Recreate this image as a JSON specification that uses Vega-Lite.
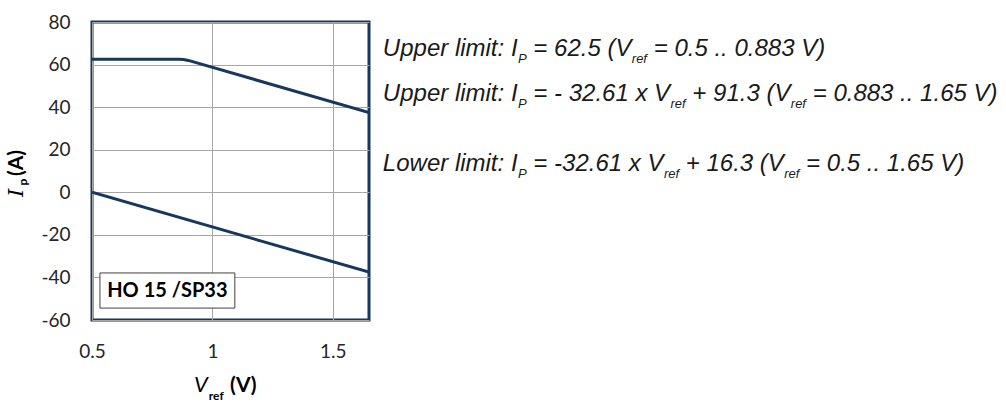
{
  "$schema": "https://vega.github.io/schema/vega-lite/v6.json",
  "width": 277,
  "height": 298,
  "autosize": "none",
  "padding": {"left": 92, "top": 22, "right": 637, "bottom": 82},
  "background": "white",
  "config": {
    "view": {"stroke": "#17375e", "strokeWidth": 3},
    "axis": {
      "domain": false,
      "ticks": false,
      "gridColor": "#a6a6a6",
      "gridWidth": 1,
      "labelFont": "Lato",
      "labelFontSize": 19,
      "labelColor": "#262626",
      "labelFlush": false,
      "labelOverlap": false,
      "labelExpr": "'' + datum.value",
      "title": null
    }
  },
  "layer": [
    {
      "data": {"values": [
        {"series": "upper", "x": 0.5, "y": 62.5},
        {"series": "upper", "x": 0.86, "y": 62.5},
        {"series": "upper", "x": 0.88, "y": 62.35},
        {"series": "upper", "x": 0.9, "y": 61.95},
        {"series": "upper", "x": 1.65, "y": 37.5},
        {"series": "lower", "x": 0.5, "y": 0},
        {"series": "lower", "x": 1.65, "y": -37.5}
      ]},
      "mark": {"type": "line", "color": "#17375e", "strokeWidth": 3, "clip": true},
      "encoding": {
        "x": {"field": "x", "type": "quantitative",
              "scale": {"domain": [0.5, 1.65], "nice": false, "zero": false},
              "axis": {"values": [0.5, 1, 1.5], "labelPadding": 22}},
        "y": {"field": "y", "type": "quantitative",
              "scale": {"domain": [-60, 80], "nice": false, "zero": false},
              "axis": {"values": [-60, -40, -20, 0, 20, 40, 60, 80], "labelPadding": 22}},
        "detail": {"field": "series"}
      }
    },
    {
      "data": {"values": [{"x": 0.533, "x2": 1.093, "y": -37.9, "y2": -54.4}]},
      "mark": {"type": "rect", "fill": "white", "stroke": "#404040", "strokeWidth": 1},
      "encoding": {
        "x": {"field": "x", "type": "quantitative"},
        "x2": {"field": "x2"},
        "y": {"field": "y", "type": "quantitative"},
        "y2": {"field": "y2"}
      }
    },
    {
      "data": {"values": [{"x": 0.813, "y": -46.3, "text": "HO 15 /SP33"}]},
      "mark": {"type": "text", "font": "Lato", "fontWeight": "bold", "fontSize": 20, "color": "#000000", "align": "center", "baseline": "middle"},
      "encoding": {
        "x": {"field": "x", "type": "quantitative"},
        "y": {"field": "y", "type": "quantitative"},
        "text": {"field": "text"}
      }
    },
    {
      "data": {"values": [
        {"x": 1.7075, "y": 64.03, "text": "Upper limit: I"},
        {"x": 2.3324, "y": 64.03, "text": "= 62.5 (V"},
        {"x": 2.832, "y": 64.03, "text": "= 0.5 .. 0.883 V)"},
        {"x": 1.7075, "y": 42.89, "text": "Upper limit: I"},
        {"x": 2.3324, "y": 42.89, "text": "= - 32.61 x V"},
        {"x": 2.9925, "y": 42.89, "text": "+ 91.3 (V"},
        {"x": 3.4921, "y": 42.89, "text": "= 0.883 .. 1.65 V)"},
        {"x": 1.7075, "y": 10.0, "text": "Lower limit: I"},
        {"x": 2.3324, "y": 10.0, "text": "= -32.61 x V"},
        {"x": 2.9651, "y": 10.0, "text": "+ 16.3 (V"},
        {"x": 3.4647, "y": 10.0, "text": "= 0.5 .. 1.65 V)"}
      ]},
      "mark": {"type": "text", "font": "Liberation Sans", "fontStyle": "italic", "fontSize": 24, "color": "#1a1a1a", "align": "left", "baseline": "alphabetic"},
      "encoding": {
        "x": {"field": "x", "type": "quantitative"},
        "y": {"field": "y", "type": "quantitative"},
        "text": {"field": "text"}
      }
    },
    {
      "data": {"values": [
        {"x": 2.2685, "y": 60.74, "text": "P"},
        {"x": 2.7411, "y": 60.74, "text": "ref"},
        {"x": 2.2685, "y": 39.6, "text": "P"},
        {"x": 2.9017, "y": 39.6, "text": "ref"},
        {"x": 3.4012, "y": 39.6, "text": "ref"},
        {"x": 2.2685, "y": 6.71, "text": "P"},
        {"x": 2.8743, "y": 6.71, "text": "ref"},
        {"x": 3.3739, "y": 6.71, "text": "ref"}
      ]},
      "mark": {"type": "text", "font": "Liberation Sans", "fontStyle": "italic", "fontSize": 13, "color": "#1a1a1a", "align": "left", "baseline": "alphabetic"},
      "encoding": {
        "x": {"field": "x", "type": "quantitative"},
        "y": {"field": "y", "type": "quantitative"},
        "text": {"field": "text"}
      }
    },
    {
      "data": {"values": [{"x": 0.923, "y": -93.8, "text": "V"}]},
      "mark": {"type": "text", "font": "Lato", "fontStyle": "italic", "fontSize": 22, "color": "#000000", "align": "left", "baseline": "alphabetic"},
      "encoding": {
        "x": {"field": "x", "type": "quantitative"},
        "y": {"field": "y", "type": "quantitative"},
        "text": {"field": "text"}
      }
    },
    {
      "data": {"values": [{"x": 0.985, "y": -97.6, "text": "ref"}]},
      "mark": {"type": "text", "font": "Lato", "fontWeight": "bold", "fontSize": 12, "color": "#000000", "align": "left", "baseline": "alphabetic"},
      "encoding": {
        "x": {"field": "x", "type": "quantitative"},
        "y": {"field": "y", "type": "quantitative"},
        "text": {"field": "text"}
      }
    },
    {
      "data": {"values": [{"x": 1.073, "y": -93.8, "text": "(V)"}]},
      "mark": {"type": "text", "font": "Lato", "fontWeight": "bold", "fontSize": 21, "color": "#000000", "align": "left", "baseline": "alphabetic"},
      "encoding": {
        "x": {"field": "x", "type": "quantitative"},
        "y": {"field": "y", "type": "quantitative"},
        "text": {"field": "text"}
      }
    },
    {
      "data": {"values": [{"x": 0.2137, "y": -2.2, "text": "I"}]},
      "mark": {"type": "text", "font": "DejaVu Serif", "fontStyle": "italic", "fontSize": 21, "color": "#000000", "align": "left", "baseline": "alphabetic", "angle": 270},
      "encoding": {
        "x": {"field": "x", "type": "quantitative"},
        "y": {"field": "y", "type": "quantitative"},
        "text": {"field": "text"}
      }
    },
    {
      "data": {"values": [{"x": 0.2303, "y": 3.2, "text": "p"}]},
      "mark": {"type": "text", "font": "Lato", "fontWeight": "bold", "fontSize": 12, "color": "#000000", "align": "left", "baseline": "alphabetic", "angle": 270},
      "encoding": {
        "x": {"field": "x", "type": "quantitative"},
        "y": {"field": "y", "type": "quantitative"},
        "text": {"field": "text"}
      }
    },
    {
      "data": {"values": [{"x": 0.2137, "y": 7.6, "text": "(A)"}]},
      "mark": {"type": "text", "font": "Lato", "fontWeight": "bold", "fontSize": 21, "color": "#000000", "align": "left", "baseline": "alphabetic", "angle": 270},
      "encoding": {
        "x": {"field": "x", "type": "quantitative"},
        "y": {"field": "y", "type": "quantitative"},
        "text": {"field": "text"}
      }
    }
  ]
}
